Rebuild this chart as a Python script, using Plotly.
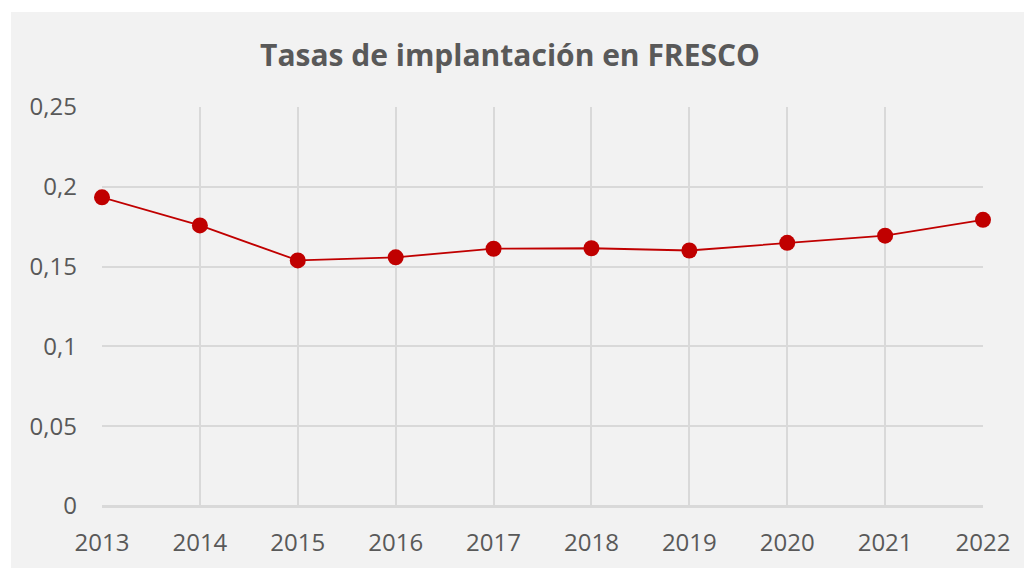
import plotly.graph_objects as go

years = ["2013", "2014", "2015", "2016", "2017", "2018", "2019", "2020", "2021", "2022"]
tasas = [0.1934, 0.1758, 0.1539, 0.1558, 0.1612, 0.1615, 0.1601, 0.1649, 0.1694, 0.1793]
y_tickvals = [0, 0.05, 0.1, 0.15, 0.2, 0.25]
y_ticktext = ["0", "0,05", "0,1", "0,15", "0,2", "0,25"]
title_text = "Tasas de implantación en FRESCO"

# page body has an 8px margin, so positions are shifted by -8
OFF = 8
W, H = 1032, 568
L, R, T, B = 102 - OFF, 49 + OFF, 107 - OFF, 62 + OFF
pw, ph = W - L - R, H - T - B

fig = go.Figure()
fig.add_trace(go.Scatter(
    x=years, y=tasas, mode="lines+markers",
    line=dict(color="#c00000", width=1.8),
    marker=dict(color="#c00000", size=16, line=dict(width=0)),
    cliponaxis=False, showlegend=False,
))

grid = "#d9d9d9"
txt = "#595959"
fig.update_layout(
    width=W, height=H,
    margin=dict(l=L, r=R, t=T, b=B),
    paper_bgcolor="white",
    plot_bgcolor="rgba(0,0,0,0)",
    font=dict(family="Open Sans", color=txt, size=24),
    title=dict(text="<b>" + title_text + "</b>", x=(510 - OFF) / W, xanchor="center",
               y=1 - (55 - OFF) / H, yanchor="middle", xref="container", yref="container",
               font=dict(family="Open Sans", size=30, color=txt)),
    shapes=[dict(type="rect", xref="paper", yref="paper", layer="below",
                 x0=(11 - OFF - L) / pw, x1=(W - L) / pw,
                 y0=-(B) / ph, y1=(H - B - (12 - OFF)) / ph,
                 fillcolor="#f2f2f2", line=dict(width=0))],
    xaxis=dict(type="category", range=[0, len(years) - 1], showgrid=True, gridcolor=grid,
               gridwidth=1.5, showline=False, zeroline=False, ticks="",
               ticklabelstandoff=20, tickfont=dict(size=24, color=txt)),
    yaxis=dict(range=[0, 0.25], tickvals=y_tickvals, ticktext=y_ticktext,
               showgrid=True, gridcolor=grid, gridwidth=1.5, zeroline=True,
               zerolinecolor=grid, zerolinewidth=2.5, showline=False, ticks="",
               ticklabelstandoff=24, tickfont=dict(size=24, color=txt)),
)

fig.write_html("out.html")
